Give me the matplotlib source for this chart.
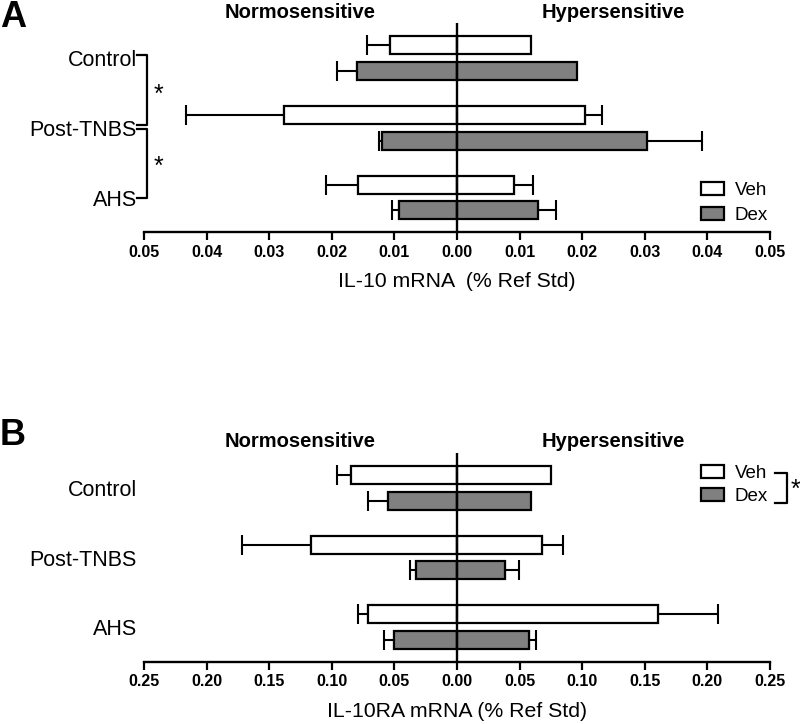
import numpy as np
import matplotlib
matplotlib.use("Agg")
from matplotlib import pyplot as plt
from matplotlib.patches import Patch

plt.rcParams['font.family'] = ['Liberation Sans', 'DejaVu Sans']

categories = ['Control', 'Post-TNBS', 'AHS']
groups = ['Veh', 'Dex']

# IL-10 mRNA (% Ref Std), mean and SEM
il10_normo_veh = [0.0107, 0.0276, 0.0158]
il10_normo_veh_sem = [0.0036, 0.0157, 0.0051]
il10_normo_dex = [0.0160, 0.0120, 0.0093]
il10_normo_dex_sem = [0.0031, 0.0004, 0.0011]
il10_hyper_veh = [0.0118, 0.0204, 0.0091]
il10_hyper_veh_sem = [0.0, 0.0027, 0.0030]
il10_hyper_dex = [0.0192, 0.0303, 0.0130]
il10_hyper_dex_sem = [0.0, 0.0089, 0.0028]

# IL-10RA mRNA (% Ref Std), mean and SEM
il10ra_normo_veh = [0.0845, 0.1166, 0.0708]
il10ra_normo_veh_sem = [0.0112, 0.0554, 0.0080]
il10ra_normo_dex = [0.0553, 0.0327, 0.0506]
il10ra_normo_dex_sem = [0.0159, 0.0046, 0.0080]
il10ra_hyper_veh = [0.0752, 0.0676, 0.1608]
il10ra_hyper_veh_sem = [0.0, 0.0167, 0.0474]
il10ra_hyper_dex = [0.0593, 0.0386, 0.0572]
il10ra_hyper_dex_sem = [0.0, 0.0106, 0.0059]

il10_ticks = [-0.05, -0.04, -0.03, -0.02, -0.01, 0.0, 0.01, 0.02, 0.03, 0.04, 0.05]
il10ra_ticks = [-0.25, -0.20, -0.15, -0.10, -0.05, 0.0, 0.05, 0.10, 0.15, 0.20, 0.25]

colors = {'Veh': 'white', 'Dex': '#808080'}
offset = 0.185
bar_h = 0.26


def draw_side(ax, y, vals, sems, color, sign):
    vals = np.asarray(vals) * sign
    sems = np.asarray(sems)
    ax.barh(y, vals, height=bar_h, color=color, edgecolor='black',
            linewidth=1.6, zorder=3)
    m = sems > 0
    if m.any():
        zeros = np.zeros(m.sum())
        xerr = [sems[m], zeros] if sign < 0 else [zeros, sems[m]]
        ax.errorbar(vals[m], y[m], xerr=xerr, fmt='none', ecolor='black',
                    elinewidth=1.5, capsize=7, capthick=1.5, zorder=2)


def panel(ax, data, ticks, xlabel):
    ypos = np.arange(len(categories))
    for g in groups:
        y = ypos + (-offset if g == 'Veh' else offset)
        nv, ns, hv, hs = data[g]
        draw_side(ax, y, nv, ns, colors[g], -1)
        draw_side(ax, y, hv, hs, colors[g], 1)
    lim = ticks[-1]
    ax.set_xlim(-lim, lim)
    ax.set_ylim(2.5, -0.51)
    ax.axvline(0, color='black', lw=1.7, zorder=4)
    ax.set_xticks(ticks)
    ax.set_xticklabels(['%.2f' % abs(t) for t in ticks], fontweight='bold',
                       fontsize=11.5)
    ax.set_yticks(ypos)
    ax.set_yticklabels(categories, fontsize=15.5)
    ax.tick_params(axis='y', length=0, pad=5)
    ax.tick_params(axis='x', length=6, width=1.6, pad=3)
    for s in ['left', 'right', 'top']:
        ax.spines[s].set_visible(False)
    ax.spines['bottom'].set_linewidth(1.7)
    ax.set_xlabel(xlabel, fontsize=15.3, labelpad=9)
    tr = ax.get_xaxis_transform()
    ax.text(-lim / 2, 1.051, 'Normosensitive', transform=tr, ha='center',
            va='center', fontsize=14.5, fontweight='bold')
    ax.text(lim / 2, 1.051, 'Hypersensitive', transform=tr, ha='center',
            va='center', fontsize=14.5, fontweight='bold')


fig = plt.figure(figsize=(8, 7.24), dpi=100)
axA = fig.add_axes([0.18, 0.6791, 0.7825, 0.2895])
axB = fig.add_axes([0.18, 0.0861, 0.7825, 0.2887])

panel(axA, {'Veh': (il10_normo_veh, il10_normo_veh_sem, il10_hyper_veh, il10_hyper_veh_sem),
            'Dex': (il10_normo_dex, il10_normo_dex_sem, il10_hyper_dex, il10_hyper_dex_sem)},
      il10_ticks, 'IL-10 mRNA  (% Ref Std)')
panel(axB, {'Veh': (il10ra_normo_veh, il10ra_normo_veh_sem, il10ra_hyper_veh, il10ra_hyper_veh_sem),
            'Dex': (il10ra_normo_dex, il10ra_normo_dex_sem, il10ra_hyper_dex, il10ra_hyper_dex_sem)},
      il10ra_ticks, 'IL-10RA mRNA (% Ref Std)')

handles = [Patch(facecolor=colors[g], edgecolor='black', linewidth=1.6, label=g)
           for g in groups]
legend_spots = [(axA, 0.24, 0.42), (axB, 0.94, 0.3)]
for ax, ytop, spacing in legend_spots:
    ax.legend(handles=handles, loc='upper left', bbox_to_anchor=(0.89, ytop),
              frameon=False, fontsize=13.5, handlelength=1.2, handleheight=0.7,
              handletextpad=0.6, labelspacing=spacing, borderpad=0, borderaxespad=0)

# significance brackets, panel A (between categories)
ty = axA.get_yaxis_transform()
for y0, y1 in [(-0.045, 0.955), (1.015, 2.0)]:
    axA.plot([-0.011, 0.004, 0.004, -0.011], [y0, y0, y1, y1], color='black',
             lw=1.6, transform=ty, clip_on=False)
for ys in [0.52, 1.56]:
    axA.text(0.023, ys, '*', transform=ty, ha='center', va='center', fontsize=18)

# significance bracket, panel B (Veh vs Dex)
axB.plot([1.008, 1.027, 1.027, 1.008], [0.905, 0.905, 0.758, 0.758], color='black',
         lw=1.6, transform=axB.transAxes, clip_on=False)
axB.text(1.041, 0.82, '*', transform=axB.transAxes, ha='center', va='center',
         fontsize=18)

fig.text(0.0, 1.0, 'A', fontsize=26, fontweight='bold', va='top', ha='left')
fig.text(0.0, 0.422, 'B', fontsize=26, fontweight='bold', va='top', ha='left')

fig.savefig('out.png', dpi=100)
